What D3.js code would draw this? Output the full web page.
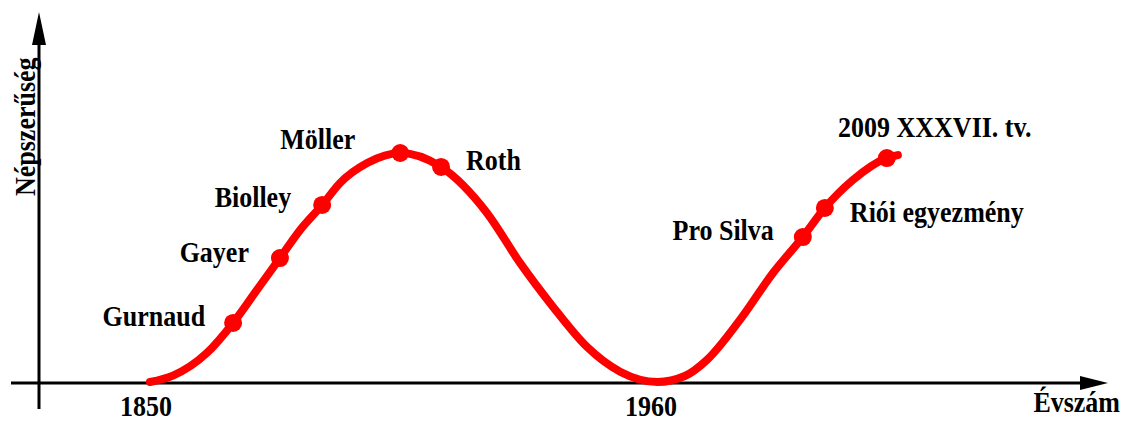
<!DOCTYPE html>
<html>
<head>
<meta charset="utf-8">
<script src="https://cdn.jsdelivr.net/npm/d3@7"></script>
<style>
  body { margin: 0; background: #fff; }
  svg { display: block; }
  text { font-family: "Liberation Serif", "Times New Roman", serif; font-weight: bold; fill: #000; }
</style>
</head>
<body>
<svg id="chart"></svg>
<script>
// popularity curve (year, relative popularity 0-100)
const curveYears = [1850, 1855.0, 1862.4, 1868.1, 1873.3, 1878.3, 1882.7, 1887.5, 1891.4, 1897.3,
  1904.5, 1913.4, 1923.4, 1930.6, 1937.8, 1945.2, 1952.4, 1960.5, 1966.5, 1971.3,
  1978.5, 1985.7, 1992.2, 1997.0, 2003.1, 2010.5, 2012.9];
const curvePop = [0, 2.8, 12.7, 25.8, 40.2, 54.1, 66.4, 77.3, 86.9, 95.6,
  100, 93.9, 73.8, 52.0, 32.8, 15.3, 4.5, 0, 2.6, 9.6,
  27.1, 47.6, 63.3, 76.0, 88.2, 97.8, 99.1];

// marked events on the curve
const eventNames = ["Gurnaud", "Gayer", "Biolley", "Möller", "Roth", "Pro Silva", "Riói egyezmény", "2009 XXXVII. tv."];
const eventYears = [1868.1, 1878.3, 1887.5, 1904.5, 1913.4, 1992.2, 1997.0, 2010.5];
const eventPop = [25.8, 54.1, 77.3, 100, 93.9, 63.3, 76.0, 97.8];

const tickYears = [1850, 1960];
const xTitle = "Évszám";
const yTitle = "Népszerűség";

// label placement relative to its dot (layout only)
const labelLayout = [
  {dx: -28, dy: 3, anchor: "end"},
  {dx: -31, dy: 4, anchor: "end"},
  {dx: -31, dy: 2, anchor: "end"},
  {dx: -45, dy: -4, anchor: "end"},
  {dx: 25, dy: 3, anchor: "start"},
  {dx: -29, dy: 3, anchor: "end"},
  {dx: 25, dy: 14, anchor: "start"},
  {dx: 48, dy: -21, anchor: "middle"}
];

const width = 1123;
const height = 421;
const fontSize = 26;
const stretch = 1.17; // the reference lettering is a bit taller than the font

const svg = d3.select("#chart").attr("width", width).attr("height", height);

const x = d3.scaleLinear().domain([1850, 1960]).range([150, 655]);
const y = d3.scaleLinear().domain([0, 100]).range([382, 153]);

const axisX = 39;   // vertical axis position
const axisY = 383;  // horizontal axis position

function label(sel, px, py, anchor, txt) {
  return sel.append("text")
    .attr("transform", `translate(${px},${py}) scale(1,${stretch})`)
    .attr("text-anchor", anchor)
    .style("font-size", fontSize + "px")
    .text(txt);
}

// axes with arrow heads
const axes = svg.append("g").attr("class", "axes");
axes.append("line")
  .attr("x1", 11).attr("y1", axisY).attr("x2", 1085).attr("y2", axisY)
  .attr("stroke", "#000").attr("stroke-width", 3);
axes.append("path")
  .attr("d", `M1080,${axisY - 7}L1108,${axisY}L1080,${axisY + 7}Z`)
  .attr("fill", "#000");
axes.append("line")
  .attr("x1", axisX).attr("y1", 409).attr("x2", axisX).attr("y2", 40)
  .attr("stroke", "#000").attr("stroke-width", 3);
axes.append("path")
  .attr("d", `M${axisX - 7},45L${axisX},12L${axisX + 7},45Z`)
  .attr("fill", "#000");

// tick labels and titles
const ticks = svg.append("g").attr("class", "ticks");
tickYears.forEach(t => label(ticks, x(t) - 4, 416, "middle", t));

label(svg, 1120, 412, "end", xTitle);

svg.append("text")
  .attr("transform", `translate(35,196) rotate(-90) scale(1,${stretch})`)
  .attr("text-anchor", "start")
  .style("font-size", fontSize + "px")
  .text(yTitle);

// the curve
const line = d3.line()
  .x((d, i) => x(curveYears[i]))
  .y(d => y(d))
  .curve(d3.curveMonotoneX);

svg.append("path")
  .datum(curvePop)
  .attr("d", line)
  .attr("fill", "none")
  .attr("stroke", "#ff0000")
  .attr("stroke-width", 8)
  .attr("stroke-linecap", "round");

// event dots and labels
const events = eventNames.map((name, i) => ({name: name, year: eventYears[i], pop: eventPop[i], lay: labelLayout[i]}));

svg.append("g").selectAll("circle")
  .data(events)
  .enter()
  .append("circle")
  .attr("cx", d => x(d.year))
  .attr("cy", d => y(d.pop))
  .attr("r", 9)
  .attr("fill", "#ff0000");

const labels = svg.append("g").attr("class", "labels");
events.forEach(d => label(labels, x(d.year) + d.lay.dx, y(d.pop) + d.lay.dy, d.lay.anchor, d.name));
</script>
</body>
</html>
